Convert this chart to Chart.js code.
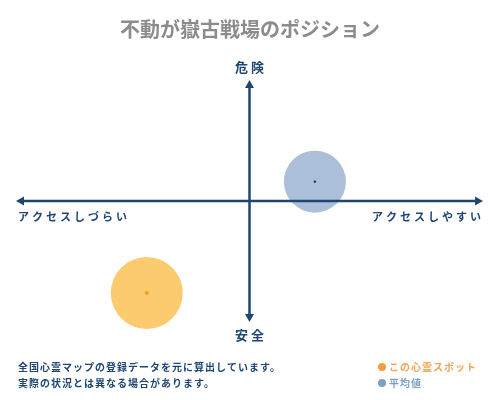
<!DOCTYPE html>
<html>
<head>
<meta charset="utf-8">
<script src="https://cdn.jsdelivr.net/npm/chart.js@4"></script>
<style>
  html, body { margin: 0; padding: 0; background: #fff; }
  #wrap { width: 500px; height: 400px; }
</style>
</head>
<body>
<div id="wrap"><canvas id="myChart" width="500" height="400"></canvas></div>
<script>
const titleText = "不動が嶽古戦場のポジション";
const seriesNames = ["この心霊スポット", "平均値"];
// x: アクセス (- しづらい / + しやすい), y: 危険度 (- 安全 / + 危険)
const spotX = [-2.2];
const spotY = [-3.8];
const avgX = [1.4];
const avgY = [0.8];
const axisLabels = ["危険", "安全", "アクセスしづらい", "アクセスしやすい"];
const noteLines = ["全国心霊マップの登録データを元に算出しています。", "実際の状況とは異なる場合があります。"];

const FONT = "'Noto Sans CJK JP', 'Noto Sans', sans-serif";
const NAVY = "#1f4673";

const ctx = document.getElementById('myChart').getContext('2d');

function toPoints(xs, ys) {
    return xs.map((x, i) => ({ x: x, y: ys[i] }));
}

function spaced(str) {
    return str.split("").join(" ");
}

const axesPlugin = {
    id: 'axesPlugin',
    afterDatasetsDraw(chart) {
        const c = chart.ctx;
        const xs = chart.scales.x;
        const ys = chart.scales.y;
        const area = chart.chartArea;
        const cx = xs.getPixelForValue(0);
        const cy = ys.getPixelForValue(0);

        c.save();
        c.strokeStyle = NAVY;
        c.fillStyle = NAVY;
        c.lineWidth = 2.5;
        c.beginPath();
        c.moveTo(area.left + 4, cy);
        c.lineTo(area.right - 4, cy);
        c.moveTo(cx, area.top + 4);
        c.lineTo(cx, area.bottom - 4);
        c.stroke();

        const arrow = (x, y, dx, dy) => {
            const len = 8, half = 4.5;
            c.beginPath();
            c.moveTo(x, y);
            c.lineTo(x - dx * len - dy * half, y - dy * len - dx * half);
            c.lineTo(x - dx * len + dy * half, y - dy * len + dx * half);
            c.closePath();
            c.fill();
        };
        arrow(area.left, cy, -1, 0);
        arrow(area.right, cy, 1, 0);
        arrow(cx, area.top, 0, -1);
        arrow(cx, area.bottom, 0, 1);

        c.font = "bold 13px " + FONT;
        c.textAlign = 'center';
        c.textBaseline = 'middle';
        c.fillText(spaced(axisLabels[0]), cx, area.top - 13);
        c.fillText(spaced(axisLabels[1]), cx, area.bottom + 13);

        c.font = "bold 11px " + FONT;
        c.letterSpacing = "3px";
        c.textAlign = 'left';
        c.fillText(axisLabels[2], area.left + 2, cy + 16);
        c.textAlign = 'right';
        c.fillText(axisLabels[3], area.right + 1, cy + 16);
        c.restore();
    },
    afterDraw(chart) {
        const c = chart.ctx;
        c.save();
        c.textBaseline = 'middle';

        c.font = "bold 20px " + FONT;
        c.fillStyle = "#8c8c8c";
        c.textAlign = 'center';
        c.fillText(titleText, 250, 29);

        c.font = "bold 10px " + FONT;
        c.fillStyle = NAVY;
        c.textAlign = 'left';
        c.letterSpacing = "1px";
        c.fillText(noteLines[0], 18, 367);
        c.fillText(noteLines[1], 18, 383);

        const legend = [
            { text: seriesNames[0], dot: "#f0a040", color: "#eea55a", y: 367 },
            { text: seriesNames[1], dot: "#7f9fc3", color: "#7f9fc3", y: 383 }
        ];
        for (const item of legend) {
            c.fillStyle = item.dot;
            c.beginPath();
            c.arc(382, item.y, 4, 0, Math.PI * 2);
            c.fill();
            c.fillStyle = item.color;
            c.fillText(item.text, 389, item.y);
        }
        c.restore();
    }
};

const myChart = new Chart(ctx, {
    type: 'bubble',
    data: {
        datasets: [
            {
                label: seriesNames[0] + " center",
                data: toPoints(spotX, spotY),
                backgroundColor: '#f2a020',
                borderWidth: 0,
                radius: 2,
                clip: false
            },
            {
                label: seriesNames[1] + " center",
                data: toPoints(avgX, avgY),
                backgroundColor: '#1f3050',
                borderWidth: 0,
                radius: 1.2,
                clip: false
            },
            {
                label: seriesNames[0],
                data: toPoints(spotX, spotY),
                backgroundColor: 'rgba(252, 196, 95, 0.9)',
                borderWidth: 0,
                radius: 36,
                clip: false
            },
            {
                label: seriesNames[1],
                data: toPoints(avgX, avgY),
                backgroundColor: 'rgba(150, 175, 208, 0.8)',
                borderWidth: 0,
                radius: 31,
                clip: false
            }
        ]
    },
    options: {
        responsive: false,
        animation: false,
        layout: { autoPadding: false, padding: { left: 16, right: 17, top: 80, bottom: 78 } },
        scales: {
            x: { display: false, min: -5, max: 5 },
            y: { display: false, min: -5, max: 5 }
        },
        plugins: {
            legend: { display: false },
            tooltip: { enabled: false }
        }
    },
    plugins: [axesPlugin]
});
</script>
</body>
</html>
